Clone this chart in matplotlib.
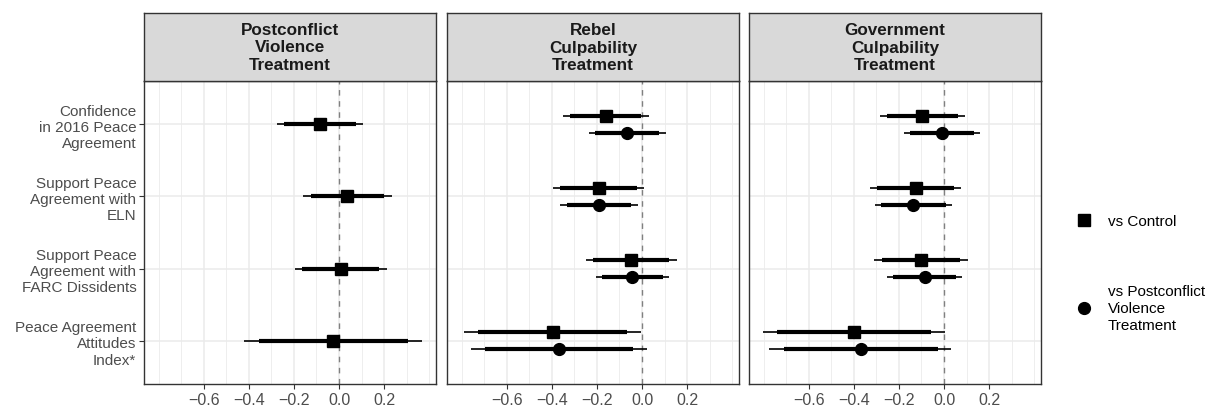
import numpy as np
import matplotlib.pyplot as plt
from matplotlib.lines import Line2D

plt.rcParams['font.family'] = ['Liberation Sans', 'DejaVu Sans']

outcomes = ["Confidence\nin 2016 Peace\nAgreement",
            "Support Peace\nAgreement with\nELN",
            "Support Peace\nAgreement with\nFARC Dissidents",
            "Peace Agreement\nAttitudes\nIndex*"]
panels = ["Postconflict\nViolence\nTreatment",
          "Rebel\nCulpability\nTreatment",
          "Government\nCulpability\nTreatment"]

# vs Control (one row per panel, one value per outcome)
ctrl_est  = [[-0.084, 0.035, 0.009, -0.026],
             [-0.161, -0.192, -0.047, -0.396],
             [-0.097, -0.126, -0.101, -0.400]]
ctrl_lo95 = [[-0.276, -0.159, -0.196, -0.420],
             [-0.352, -0.395, -0.250, -0.790],
             [-0.285, -0.329, -0.309, -0.804]]
ctrl_hi95 = [[0.106, 0.234, 0.212, 0.369],
             [0.030, 0.007, 0.154, -0.003],
             [0.093, 0.076, 0.106, 0.004]]
ctrl_lo90 = [[-0.244, -0.126, -0.163, -0.357],
             [-0.320, -0.364, -0.217, -0.726],
             [-0.254, -0.299, -0.274, -0.740]]
ctrl_hi90 = [[0.074, 0.200, 0.179, 0.304],
             [-0.003, -0.024, 0.121, -0.067],
             [0.062, 0.044, 0.072, -0.059]]

# vs Postconflict Violence Treatment (panels 2 and 3 only)
pc_est  = [None,
           [-0.065, -0.189, -0.043, -0.368],
           [-0.007, -0.137, -0.085, -0.369]]
pc_lo95 = [None,
           [-0.235, -0.362, -0.204, -0.759],
           [-0.176, -0.307, -0.251, -0.775]]
pc_hi95 = [None,
           [0.105, -0.019, 0.118, 0.022],
           [0.160, 0.037, 0.079, 0.031]]
pc_lo90 = [None,
           [-0.209, -0.334, -0.179, -0.697],
           [-0.149, -0.279, -0.225, -0.710]]
pc_hi90 = [None,
           [0.075, -0.049, 0.092, -0.040],
           [0.132, 0.010, 0.051, -0.029]]

W, H = 1210, 406
fig = plt.figure(figsize=(W / 100, H / 100), dpi=100)

lefts = [144, 447, 749]
pw = 292
ptop, pbot, stop = 82, 385, 14
dodge = 0.12
ypos = np.arange(len(outcomes))
grey20 = '#333333'

def draw_series(ax, y, est, lo95, hi95, lo90, hi90, marker, ms):
	ax.hlines(y, lo95, hi95, color='black', lw=1.2, zorder=3)
	ax.hlines(y, lo90, hi90, color='black', lw=3.0, zorder=3)
	ax.plot(est, y, ls='none', marker=marker, ms=ms, color='black', zorder=4)

for i, title in enumerate(panels):
	ax = fig.add_axes([lefts[i] / W, (H - pbot) / H, pw / W, (pbot - ptop) / H])
	ax.set_xlim(-0.865, 0.43)
	ax.set_ylim(3.6, -0.6)
	ax.set_xticks([-0.6, -0.4, -0.2, 0.0, 0.2])
	ax.set_xticks([-0.8, -0.7, -0.5, -0.3, -0.1, 0.1, 0.3, 0.4], minor=True)
	ax.set_yticks(ypos)
	if i == 0:
		ax.set_yticklabels(outcomes, linespacing=1.2)
	else:
		ax.set_yticklabels([])
	ax.grid(which='major', color='#EBEBEB', lw=1.1, zorder=0)
	ax.grid(which='minor', axis='x', color='#EBEBEB', lw=0.6, zorder=0)
	ax.set_axisbelow(True)
	ax.tick_params(which='major', length=3.5, width=0.8, color=grey20, labelcolor='#4D4D4D', labelsize=11, pad=2)
	ax.tick_params(axis='x', labelsize=11.5)
	ax.tick_params(which='minor', length=0)
	if i > 0:
		ax.tick_params(axis='y', length=0)
	for s in ax.spines.values():
		s.set_color(grey20)
		s.set_linewidth(1.0)
	ax.axvline(0, color='#808080', lw=1.0, ls=(0, (4, 4)), zorder=2)

	if pc_est[i] is None:
		draw_series(ax, ypos, ctrl_est[i], ctrl_lo95[i], ctrl_hi95[i], ctrl_lo90[i], ctrl_hi90[i], 's', 8)
	else:
		draw_series(ax, ypos - dodge, ctrl_est[i], ctrl_lo95[i], ctrl_hi95[i], ctrl_lo90[i], ctrl_hi90[i], 's', 8)
		draw_series(ax, ypos + dodge, pc_est[i], pc_lo95[i], pc_hi95[i], pc_lo90[i], pc_hi90[i], 'o', 8.5)

	# facet strip
	sx = fig.add_axes([lefts[i] / W, (H - ptop) / H, pw / W, (ptop - stop) / H])
	sx.set_facecolor('#D9D9D9')
	sx.set_xticks([]); sx.set_yticks([])
	for s in sx.spines.values():
		s.set_color(grey20)
		s.set_linewidth(1.0)
	sx.text(0.5, 0.5, title, ha='center', va='center', fontsize=12.3, fontweight='bold',
		color='#1A1A1A', linespacing=1.2, transform=sx.transAxes)

handles = [Line2D([], [], ls='none', marker='s', ms=8, color='black'),
           Line2D([], [], ls='none', marker='o', ms=8.5, color='black')]
labels = ["vs Control", "vs Postconflict\nViolence\nTreatment"]
leg = fig.legend(handles, labels, loc='upper left', bbox_to_anchor=(1076 / W, 1 - 215 / H),
	frameon=False, fontsize=11, handlelength=1.0, handletextpad=1.1, borderpad=0,
	borderaxespad=0, labelspacing=3.66)
for t in leg.get_texts():
	t.set_linespacing(1.27)

fig.savefig('out.png', dpi=100)
